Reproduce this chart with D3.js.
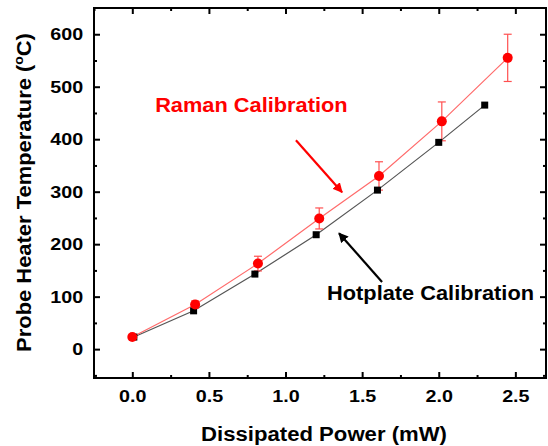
<!DOCTYPE html>
<html>
<head>
<meta charset="utf-8">
<script src="https://cdn.jsdelivr.net/npm/d3@7"></script>
<style>
  html, body { margin: 0; padding: 0; background: #fff; }
  svg { display: block; }
  text { font-family: Arial, "Liberation Sans", Helvetica, sans-serif; font-weight: bold; }
</style>
</head>
<body>
<svg id="chart" width="548" height="446"></svg>
<script>
// Dissipated power (mW) for each calibration run
const ramanPower = [0.0, 0.41, 0.82, 1.22, 1.61, 2.02, 2.45];
const ramanTemp = [23, 85, 163, 249, 330, 434, 555];
const ramanErr = [2, 7, 14, 20, 27, 37, 45];

const hotplatePower = [0.01, 0.4, 0.8, 1.2, 1.6, 2.0, 2.3];
const hotplateTemp = [23, 73, 143, 218, 303, 394, 465];

const xTicks = [0.0, 0.5, 1.0, 1.5, 2.0, 2.5];
const xMinorTicks = [-0.25, 0.25, 0.75, 1.25, 1.75, 2.25];
const yTicks = [0, 100, 200, 300, 400, 500, 600];
const yMinorTicks = [-50, 50, 150, 250, 350, 450, 550];

const svg = d3.select("#chart");
const pLeft = 94, pRight = 546, pTop = 8, pBottom = 378;

const x = d3.scaleLinear().domain([-0.25, 2.7]).range([pLeft, pRight]);
const y = d3.scaleLinear().domain([-55, 650]).range([pBottom, pTop]);

// the lettering is set slightly wide
const tickFont = 17, tickStretch = 1.16;
const labelFont = 20, labelStretch = 1.09;

// arrowheads
const defs = svg.append("defs");
[["arrRed", "#ff0000"], ["arrBlack", "#000"]].forEach(([id, c]) => {
  defs.append("marker")
    .attr("id", id).attr("viewBox", "0 0 10 10")
    .attr("refX", 9).attr("refY", 5)
    .attr("markerWidth", 4.5).attr("markerHeight", 4.5)
    .attr("orient", "auto")
    .append("path").attr("d", "M0,0 L10,5 L0,10 Z").attr("fill", c);
});

// axes with inward ticks on all four sides
function styleAxis(g) {
  g.select(".domain").remove();
  g.selectAll("line").attr("stroke", "#000").attr("stroke-width", 2);
}
function styleTickText(g) {
  g.selectAll("text")
    .attr("font-size", tickFont).attr("fill", "#000").attr("font-weight", "bold")
    .attr("transform", `scale(${tickStretch},1)`);
}
const fmt = d3.format(".1f");
svg.append("g").attr("transform", `translate(0,${pBottom})`)
  .call(d3.axisBottom(x).tickValues(xTicks).tickFormat(fmt).tickSizeInner(-6).tickPadding(12))
  .call(styleAxis)
  .call(styleTickText);
svg.append("g").attr("transform", `translate(0,${pBottom})`)
  .call(d3.axisBottom(x).tickValues(xMinorTicks).tickFormat("").tickSizeInner(-3))
  .call(styleAxis);
svg.append("g").attr("transform", `translate(0,${pTop})`)
  .call(d3.axisTop(x).tickValues(xTicks).tickFormat("").tickSizeInner(-6))
  .call(styleAxis);
svg.append("g").attr("transform", `translate(0,${pTop})`)
  .call(d3.axisTop(x).tickValues(xMinorTicks).tickFormat("").tickSizeInner(-3))
  .call(styleAxis);

svg.append("g").attr("transform", `translate(${pLeft},0)`)
  .call(d3.axisLeft(y).tickValues(yTicks).tickSizeInner(-6).tickPadding(9.3))
  .call(styleAxis)
  .call(styleTickText);
svg.append("g").attr("transform", `translate(${pLeft},0)`)
  .call(d3.axisLeft(y).tickValues(yMinorTicks).tickFormat("").tickSizeInner(-3))
  .call(styleAxis);
svg.append("g").attr("transform", `translate(${pRight},0)`)
  .call(d3.axisRight(y).tickValues(yTicks).tickFormat("").tickSizeInner(-6))
  .call(styleAxis);
svg.append("g").attr("transform", `translate(${pRight},0)`)
  .call(d3.axisRight(y).tickValues(yMinorTicks).tickFormat("").tickSizeInner(-3))
  .call(styleAxis);

// frame
svg.append("rect")
  .attr("x", pLeft).attr("y", pTop)
  .attr("width", pRight - pLeft).attr("height", pBottom - pTop)
  .attr("fill", "none").attr("stroke", "#000").attr("stroke-width", 2);

// axis titles
svg.append("text")
  .attr("transform", `translate(324,441) scale(1.08,1)`)
  .attr("text-anchor", "middle").attr("font-size", 20.5)
  .text("Dissipated Power (mW)");

const yt = svg.append("text")
  .attr("transform", `translate(31,192.5) rotate(-90) scale(1.07,1)`)
  .attr("text-anchor", "middle").attr("font-size", 20.5);
yt.append("tspan").text("Probe Heater Temperature (");
yt.append("tspan").attr("font-size", 13).attr("dy", -8).text("o");
yt.append("tspan").attr("dy", 8).text("C)");

const line = d3.line().x(d => x(d[0])).y(d => y(d[1]));
const hot = hotplatePower.map((p, i) => [p, hotplateTemp[i]]);
const ram = ramanPower.map((p, i) => [p, ramanTemp[i], ramanErr[i]]);

// connecting lines
svg.append("path").datum(hot).attr("d", line)
  .attr("fill", "none").attr("stroke", "#555").attr("stroke-width", 1.2);
svg.append("path").datum(ram).attr("d", line)
  .attr("fill", "none").attr("stroke", "#ff6b6b").attr("stroke-width", 1.2);

// Raman error bars
const eb = svg.append("g").attr("stroke", "#ff5050").attr("stroke-width", 1.2);
ram.forEach(d => {
  const cx = x(d[0]), y0 = y(d[1] - d[2]), y1 = y(d[1] + d[2]);
  eb.append("line").attr("x1", cx).attr("x2", cx).attr("y1", y0).attr("y2", y1);
  eb.append("line").attr("x1", cx - 4).attr("x2", cx + 4).attr("y1", y0).attr("y2", y0);
  eb.append("line").attr("x1", cx - 4).attr("x2", cx + 4).attr("y1", y1).attr("y2", y1);
});

// hotplate markers (squares)
svg.append("g").selectAll("rect").data(hot).join("rect")
  .attr("x", d => x(d[0]) - 3.5).attr("y", d => y(d[1]) - 3.5)
  .attr("width", 7).attr("height", 7).attr("fill", "#000");

// Raman markers (circles)
svg.append("g").selectAll("circle").data(ram).join("circle")
  .attr("cx", d => x(d[0])).attr("cy", d => y(d[1])).attr("r", 5)
  .attr("fill", "#ff0000");

// annotations
svg.append("text")
  .attr("transform", `translate(${x(0.149)},${y(450) - 0.5}) scale(${labelStretch},1)`)
  .attr("font-size", labelFont).attr("fill", "#ff0000")
  .text("Raman Calibration");
svg.append("line")
  .attr("x1", x(1.068)).attr("y1", y(398)).attr("x2", x(1.369)).attr("y2", y(299))
  .attr("stroke", "#ff0000").attr("stroke-width", 2.2).attr("marker-end", "url(#arrRed)");

svg.append("text")
  .attr("transform", `translate(${x(1.271)},${y(94)}) scale(${labelStretch},1)`)
  .attr("font-size", labelFont).attr("fill", "#000")
  .text("Hotplate Calibration");
svg.append("line")
  .attr("x1", x(1.63)).attr("y1", y(128)).attr("x2", x(1.349)).attr("y2", y(221))
  .attr("stroke", "#000").attr("stroke-width", 2.2).attr("marker-end", "url(#arrBlack)");
</script>
</body>
</html>
